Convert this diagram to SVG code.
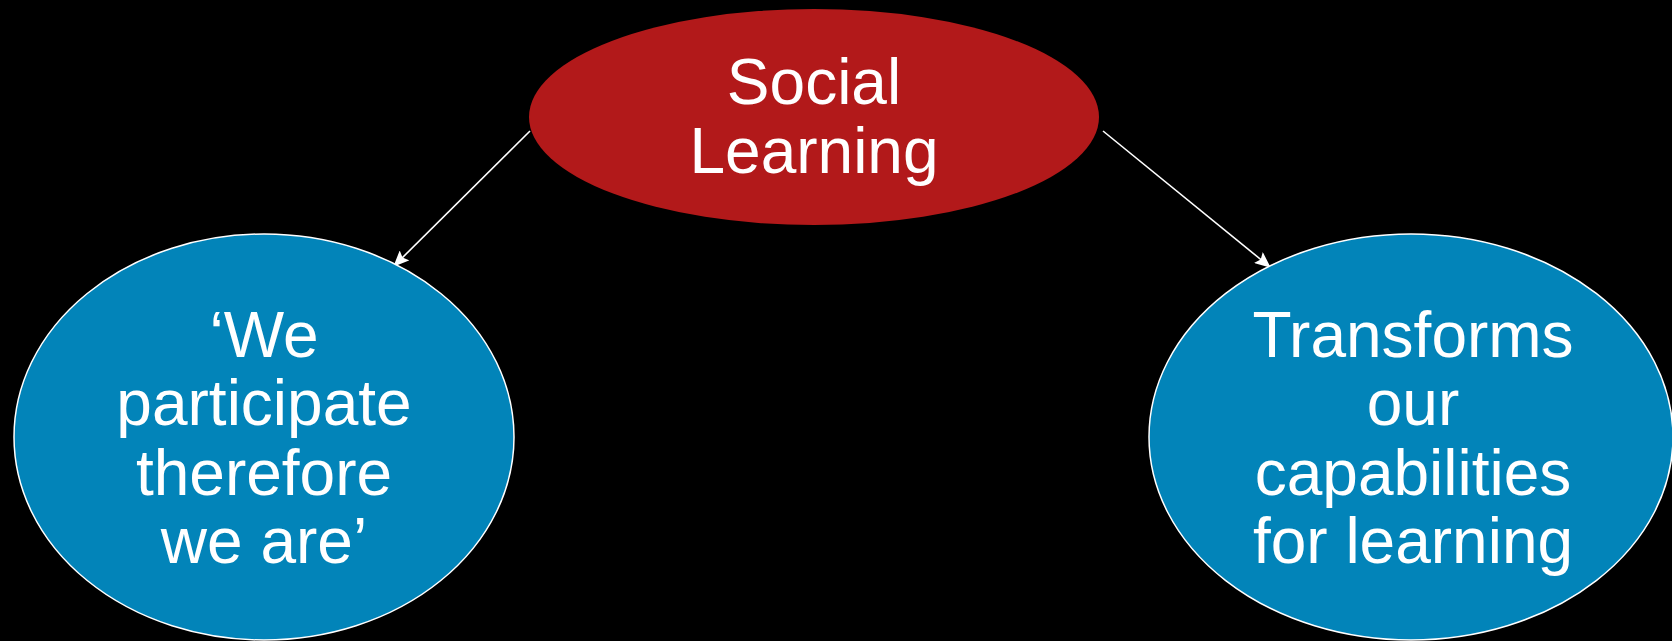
<svg xmlns="http://www.w3.org/2000/svg" width="1672" height="641" viewBox="0 0 1672 641">
<defs>
<style>
.lbl{font-family:"Liberation Sans",Arial,Helvetica,sans-serif;font-size:64px;fill:#ffffff;text-anchor:middle}
.blue{fill:#0284B9;stroke:#ffffff;stroke-width:1.5}
.red{fill:#B2191A}
.conn{stroke:#ffffff;stroke-width:1.6;fill:none}
</style>
<marker id="arr" viewBox="0 0 16 14" refX="15" refY="7" markerWidth="16" markerHeight="14" markerUnits="userSpaceOnUse" orient="auto">
<path d="M0,0 L16,7 L0,14 L3,7 z" fill="#ffffff"/>
</marker>
</defs>
<rect x="0" y="0" width="1672" height="641" fill="#000000"/>
<g id="connectors">
<line class="conn" x1="530" y1="131" x2="394" y2="266" marker-end="url(#arr)"/>
<line class="conn" x1="1103" y1="131" x2="1270" y2="267" marker-end="url(#arr)"/>
</g>
<g id="node-social-learning">
<ellipse class="red" cx="814" cy="117" rx="285" ry="108"/>
<text class="lbl" x="814" y="104">Social</text>
<text class="lbl" x="814" y="173">Learning</text>
</g>
<g id="node-participate">
<ellipse class="blue" cx="264" cy="437" rx="250" ry="203"/>
<text class="lbl" x="264" y="357">‘We</text>
<text class="lbl" x="264" y="425">participate</text>
<text class="lbl" x="264" y="495">therefore</text>
<text class="lbl" x="264" y="563">we are’</text>
</g>
<g id="node-transforms">
<ellipse class="blue" cx="1411" cy="437" rx="262" ry="203"/>
<text class="lbl" x="1413" y="357">Transforms</text>
<text class="lbl" x="1413" y="425">our</text>
<text class="lbl" x="1413" y="495">capabilities</text>
<text class="lbl" x="1413" y="563">for learning</text>
</g>
</svg>
